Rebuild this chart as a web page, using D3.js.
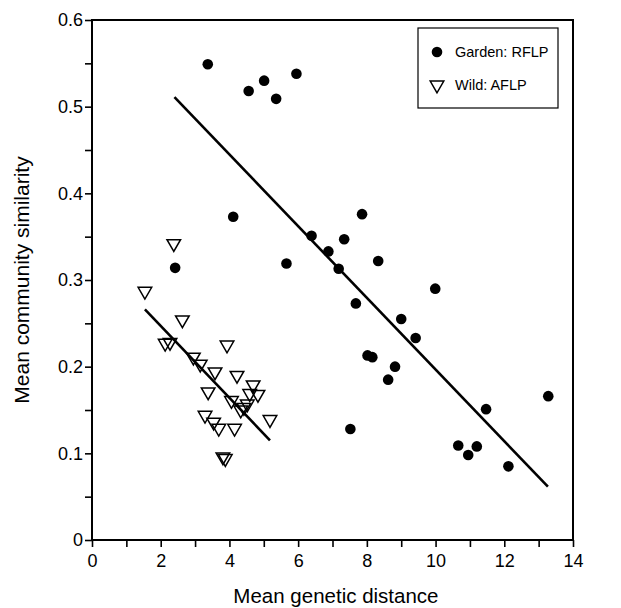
<!DOCTYPE html>
<html>
<head>
<meta charset="utf-8">
<script src="https://cdn.jsdelivr.net/npm/d3@7"></script>
<style>
  body { margin: 0; background: #fff; }
  text { font-family: "Liberation Sans", Arial, Helvetica, sans-serif; }
</style>
</head>
<body>
<div class="vis"></div>
<script>
// Garden: RFLP (filled circles)
const gardenX = [3.37, 4.56, 5.01, 5.36, 5.95, 4.11, 2.42, 5.66, 6.39, 6.88, 7.18, 7.34, 7.68, 7.86, 8.33,
  8.02, 8.16, 8.82, 8.62, 9.00, 9.42, 9.99, 7.52, 10.66, 11.20, 10.95, 11.47, 12.12, 13.28];
const gardenY = [0.549, 0.518, 0.530, 0.509, 0.538, 0.373, 0.314, 0.319, 0.351, 0.333, 0.313, 0.347, 0.273, 0.376, 0.322,
  0.213, 0.211, 0.200, 0.185, 0.255, 0.233, 0.290, 0.128, 0.109, 0.108, 0.098, 0.151, 0.085, 0.166];
// Wild: AFLP (open triangles)
const wildX = [1.54, 2.13, 2.27, 2.38, 2.63, 2.95, 3.15, 3.58, 3.93, 4.22, 4.69, 3.38, 4.59, 4.83, 4.06,
  4.33, 4.42, 4.52, 3.29, 3.54, 3.69, 4.15, 5.18, 3.81, 3.88];
const wildY = [0.287, 0.227, 0.228, 0.342, 0.254, 0.211, 0.203, 0.194, 0.225, 0.190, 0.179, 0.171, 0.169, 0.168, 0.161,
  0.150, 0.153, 0.157, 0.144, 0.136, 0.129, 0.129, 0.139, 0.096, 0.094];
// regression lines (end points)
const gardenFit = [[2.40, 0.511], [13.27, 0.0615]];
const wildFit = [[1.54, 0.266], [5.18, 0.115]];

const xTicks = d3.range(0, 15, 1);
const yTicks = d3.range(0, 0.61, 0.05);
const legendLabels = ["Garden: RFLP", "Wild: AFLP"];

const W = 621, H = 608;
const margin = {top: 20, right: 48, bottom: 68, left: 92};

const svg = d3.select(".vis")
  .append("svg")
  .attr("width", W)
  .attr("height", H);

const x = d3.scaleLinear().domain([0, 14]).range([margin.left, W - margin.right]);
const y = d3.scaleLinear().domain([0, 0.6]).range([H - margin.bottom, margin.top]);

// X axis
const xAxis = svg.append("g")
  .attr("transform", "translate(0," + y(0) + ")")
  .call(d3.axisBottom(x)
    .tickValues(xTicks)
    .tickSize(7)
    .tickFormat(d => d % 2 === 0 ? d : ""));
xAxis.select(".domain").remove();
xAxis.selectAll("line").attr("stroke-width", 1.6);
xAxis.selectAll("text").attr("font-size", 18).attr("dy", "0.95em").attr("fill", "#000");

// Y axis
const yAxis = svg.append("g")
  .attr("transform", "translate(" + x(0) + ",0)")
  .call(d3.axisLeft(y)
    .tickValues(yTicks)
    .tickSize(7)
    .tickFormat(d => {
      const r = Math.round(d * 100);
      if (r % 10 !== 0) return "";
      return r === 0 ? "0" : d3.format(".1f")(d);
    }));
yAxis.select(".domain").remove();
yAxis.selectAll("line").attr("stroke-width", 1.6);
yAxis.selectAll("text").attr("font-size", 18).attr("x", -9).attr("fill", "#000");

// frame
svg.append("rect")
  .attr("x", x(0)).attr("y", y(0.6))
  .attr("width", x(14) - x(0)).attr("height", y(0) - y(0.6))
  .attr("fill", "none").attr("stroke", "#000").attr("stroke-width", 2);

// fit lines
const line = d3.line().x(d => x(d[0])).y(d => y(d[1]));
[gardenFit, wildFit].forEach(f => {
  svg.append("path").attr("d", line(f))
    .attr("fill", "none").attr("stroke", "#000").attr("stroke-width", 2.6);
});

// points
const garden = gardenX.map((v, i) => ({x: v, y: gardenY[i]}));
const wild = wildX.map((v, i) => ({x: v, y: wildY[i]}));

svg.selectAll(".garden")
  .data(garden)
  .enter()
  .append("circle")
  .attr("class", "garden")
  .attr("cx", d => x(d.x))
  .attr("cy", d => y(d.y))
  .attr("r", 5.3)
  .attr("fill", "#000");

const tri = d3.symbol().type(d3.symbolTriangle).size(80);
svg.selectAll(".wild")
  .data(wild)
  .enter()
  .append("path")
  .attr("class", "wild")
  .attr("d", tri)
  .attr("transform", d => "translate(" + x(d.x) + "," + y(d.y) + ") rotate(180)")
  .attr("fill", "none")
  .attr("stroke", "#000")
  .attr("stroke-width", 1.5);

// axis titles
svg.append("text")
  .attr("x", x(7.1))
  .attr("y", 603)
  .attr("text-anchor", "middle")
  .attr("font-size", 20.5)
  .text("Mean genetic distance");

svg.append("text")
  .attr("transform", "translate(29," + (y(0.3)) + ") rotate(-90)")
  .attr("text-anchor", "middle")
  .attr("font-size", 21)
  .text("Mean community similarity");

// legend
const lg = svg.append("g");
lg.append("rect")
  .attr("x", 418).attr("y", 28).attr("width", 140).attr("height", 80)
  .attr("fill", "#fff").attr("stroke", "#000").attr("stroke-width", 1.2);
lg.append("circle").attr("cx", 437).attr("cy", 52).attr("r", 5.3).attr("fill", "#000");
lg.append("path").attr("d", tri)
  .attr("transform", "translate(437,85) rotate(180)")
  .attr("fill", "none").attr("stroke", "#000").attr("stroke-width", 1.5);
legendLabels.forEach((t, i) => {
  lg.append("text")
    .attr("x", 455).attr("y", 52 + i * 33)
    .attr("dy", "0.35em")
    .attr("font-size", 14.5)
    .text(t);
});
</script>
</body>
</html>
